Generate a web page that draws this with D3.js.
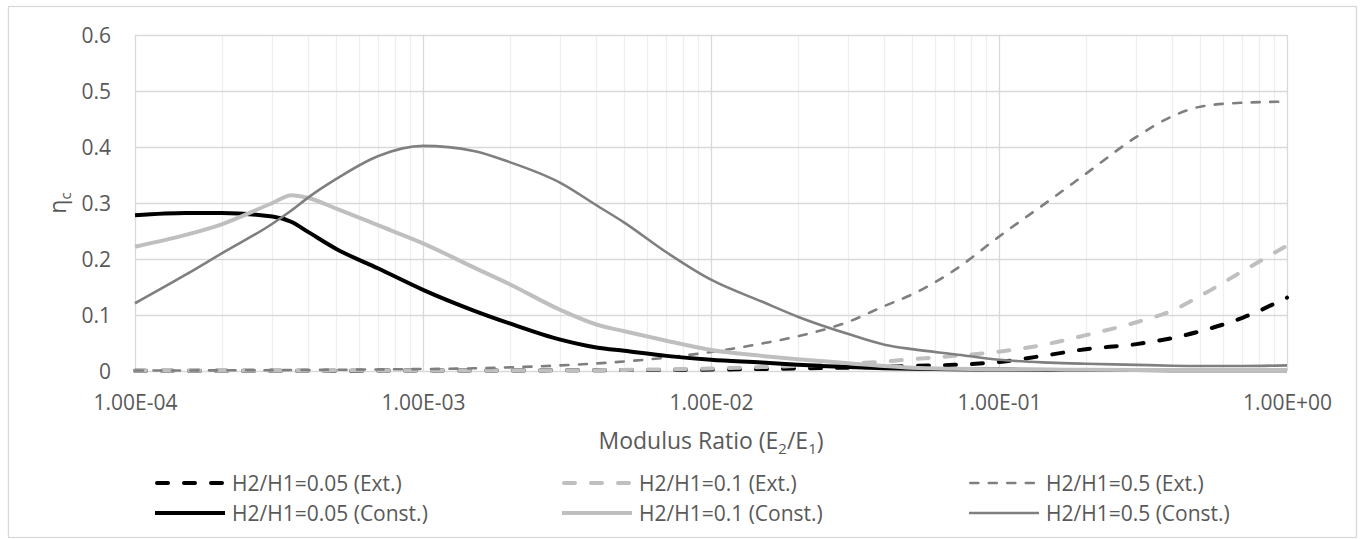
<!DOCTYPE html>
<html>
<head>
<meta charset="utf-8">
<script src="https://cdn.jsdelivr.net/npm/d3@7"></script>
<style>
  html, body { margin: 0; padding: 0; background: #ffffff; }
  svg { display: block; font-family: "Open Sans", sans-serif; }
</style>
</head>
<body>
<svg id="chart" width="1366" height="539"></svg>
<script>
// Modulus ratio E2/E1 sample points (log-spaced)
const xValues = [1e-4, 1.5e-4, 2e-4, 3e-4, 3.5e-4, 4e-4, 5e-4, 7e-4,
  1e-3, 1.5e-3, 2e-3, 3e-3, 4e-3, 5e-3, 7e-3,
  1e-2, 1.5e-2, 2e-2, 3e-2, 4e-2, 5e-2, 7e-2,
  1e-1, 1.5e-1, 2e-1, 3e-1, 4e-1, 5e-1, 7e-1, 1];

// eta_c for each thickness ratio, extensional case
const ext005 = [0.0005, 0.0005, 0.0005, 0.0005, 0.0005, 0.0005, 0.0006, 0.0007,
  0.0008, 0.0009, 0.001, 0.0012, 0.0014, 0.0016, 0.002,
  0.0025, 0.0035, 0.0045, 0.006, 0.0075, 0.009, 0.011,
  0.016, 0.029, 0.039, 0.048, 0.059, 0.071, 0.095, 0.131];
const ext01 = [0.0005, 0.0005, 0.0005, 0.0006, 0.0006, 0.0006, 0.0007, 0.0008,
  0.0009, 0.001, 0.001, 0.0012, 0.0015, 0.002, 0.003,
  0.0045, 0.007, 0.009, 0.013, 0.017, 0.021, 0.027,
  0.0345, 0.049, 0.064, 0.087, 0.108, 0.134, 0.178, 0.224];
const ext05 = [0.0008, 0.001, 0.0012, 0.0015, 0.0017, 0.0019, 0.0022, 0.0028,
  0.0035, 0.0048, 0.0065, 0.01, 0.0135, 0.017, 0.024,
  0.034, 0.049, 0.062, 0.088, 0.116, 0.137, 0.18,
  0.24, 0.305, 0.352, 0.418, 0.455, 0.472, 0.479, 0.481];

// eta_c for each thickness ratio, constant case
const const005 = [0.278, 0.282, 0.282, 0.276, 0.266, 0.248, 0.218, 0.183,
  0.145, 0.108, 0.085, 0.056, 0.042, 0.036, 0.027,
  0.02, 0.015, 0.011, 0.007, 0.005, 0.004, 0.003,
  0.0025, 0.002, 0.0018, 0.0016, 0.0015, 0.0014, 0.0013, 0.0012];
const const01 = [0.222, 0.243, 0.262, 0.300, 0.314, 0.309, 0.290, 0.260,
  0.228, 0.185, 0.155, 0.109, 0.083, 0.071, 0.054,
  0.0375, 0.027, 0.021, 0.014, 0.009, 0.006, 0.004,
  0.003, 0.0025, 0.0022, 0.002, 0.002, 0.002, 0.002, 0.002];
const const05 = [0.121, 0.172, 0.21, 0.263, 0.287, 0.31, 0.343, 0.384,
  0.402, 0.393, 0.373, 0.336, 0.296, 0.265, 0.212,
  0.163, 0.124, 0.097, 0.066, 0.047, 0.039, 0.03,
  0.02, 0.015, 0.013, 0.011, 0.0095, 0.009, 0.009, 0.01];

const seriesNames = ["H2/H1=0.05 (Ext.)", "H2/H1=0.1 (Ext.)", "H2/H1=0.5 (Ext.)",
  "H2/H1=0.05 (Const.)", "H2/H1=0.1 (Const.)", "H2/H1=0.5 (Const.)"];

const xTickValues = [1e-4, 1e-3, 1e-2, 1e-1, 1];
const xTickLabels = ["1.00E-04", "1.00E-03", "1.00E-02", "1.00E-01", "1.00E+00"];
const yTickValues = [0, 0.1, 0.2, 0.3, 0.4, 0.5, 0.6];
const yTickLabels = ["0", "0.1", "0.2", "0.3", "0.4", "0.5", "0.6"];

// Line styles per series
const styles = [
  { color: "#000000", width: 4, dash: "11,16" },
  { color: "#bfbfbf", width: 4, dash: "11,16" },
  { color: "#7f7f7f", width: 2.6, dash: "8,10.5" },
  { color: "#000000", width: 4, dash: null },
  { color: "#bfbfbf", width: 4, dash: null },
  { color: "#7f7f7f", width: 2.6, dash: null }
];
const seriesValues = [ext005, ext01, ext05, const005, const01, const05];

const svg = d3.select("#chart");
const textColor = "#595959";

// Outer chart frame
svg.append("rect")
  .attr("x", 8.5).attr("y", 6.5)
  .attr("width", 1348).attr("height", 531)
  .attr("fill", "#ffffff").attr("stroke", "#d9d9d9").attr("stroke-width", 1.3);

const x = d3.scaleLog().domain([1e-4, 1]).range([135, 1287]);
const y = d3.scaleLinear().domain([0, 0.6]).range([371, 35]);

// Grid: minor verticals, major verticals, horizontals
const grid = svg.append("g");
const allLogTicks = x.ticks();
const minorTicks = allLogTicks.filter(t => !xTickValues.some(v => Math.abs(v - t) / v < 1e-9));
grid.selectAll("line.minor").data(minorTicks).join("line")
  .attr("class", "minor")
  .attr("x1", d => Math.round(x(d)) + 0.5).attr("x2", d => Math.round(x(d)) + 0.5)
  .attr("y1", y(0.6)).attr("y2", y(0))
  .attr("stroke", "#eeeeee").attr("stroke-width", 1.3);
grid.selectAll("line.hz").data(yTickValues).join("line")
  .attr("class", "hz")
  .attr("x1", x(1e-4)).attr("x2", x(1))
  .attr("y1", d => Math.round(y(d)) + 0.5).attr("y2", d => Math.round(y(d)) + 0.5)
  .attr("stroke", "#d9d9d9").attr("stroke-width", 1.3);
grid.selectAll("line.major").data(xTickValues).join("line")
  .attr("class", "major")
  .attr("x1", d => Math.round(x(d)) + 0.5).attr("x2", d => Math.round(x(d)) + 0.5)
  .attr("y1", y(0.6)).attr("y2", y(0))
  .attr("stroke", "#d9d9d9").attr("stroke-width", 1.3);

// Axes
const xAxis = svg.append("g")
  .attr("transform", `translate(0,${y(0)})`)
  .call(d3.axisBottom(x).tickValues(xTickValues)
    .tickFormat((d, i) => xTickLabels[i]).tickSize(0));
xAxis.select(".domain").remove();
xAxis.selectAll("text")
  .attr("y", 39).attr("dy", 0)
  .attr("fill", textColor)
  .style("font-family", "'Open Sans', sans-serif")
  .style("font-size", "21px");

const yAxis = svg.append("g")
  .attr("transform", `translate(${x(1e-4)},0)`)
  .call(d3.axisLeft(y).tickValues(yTickValues)
    .tickFormat((d, i) => yTickLabels[i]).tickSize(0));
yAxis.select(".domain").remove();
yAxis.selectAll("text")
  .attr("x", -24).attr("dy", "0.36em")
  .attr("fill", textColor)
  .style("font-family", "'Open Sans', sans-serif")
  .style("font-size", "21px");

// Axis titles
const xTitle = svg.append("text")
  .attr("x", (x(1e-4) + x(1)) / 2).attr("y", 449)
  .attr("text-anchor", "middle")
  .attr("fill", textColor)
  .style("font-size", "23px");
xTitle.append("tspan").text("Modulus Ratio (E");
xTitle.append("tspan").text("2").attr("dy", 5).style("font-size", "15px");
xTitle.append("tspan").text("/E").attr("dy", -5);
xTitle.append("tspan").text("1").attr("dy", 5).style("font-size", "15px");
xTitle.append("tspan").text(")").attr("dy", -5);

const yTitle = svg.append("text")
  .attr("transform", `translate(66,${(y(0) + y(0.6)) / 2}) rotate(-90)`)
  .attr("text-anchor", "middle")
  .attr("fill", textColor)
  .style("font-size", "23px");
yTitle.append("tspan").text("η");
yTitle.append("tspan").text("c").attr("dy", 5).style("font-size", "15px");

// Curves
const points = vals => xValues.map((xv, i) => [xv, vals[i]]);
const line = d3.line()
  .x(d => x(d[0]))
  .y(d => y(d[1]))
  .curve(d3.curveMonotoneX);

const curves = svg.append("g");
seriesValues.forEach((vals, i) => {
  const s = styles[i];
  curves.append("path")
    .datum(points(vals))
    .attr("d", line)
    .attr("fill", "none")
    .attr("stroke", s.color)
    .attr("stroke-width", s.width)
    .attr("stroke-linecap", s.dash ? "round" : "butt")
    .attr("stroke-linejoin", "round")
    .attr("stroke-dasharray", s.dash);
});

// Legend: 3 columns x 2 rows
const legendCols = [155, 562, 969];
const legendRows = [483, 513];
const legend = svg.append("g");
seriesNames.forEach((name, i) => {
  const col = i % 3, row = Math.floor(i / 3);
  const s = styles[i];
  const lx = legendCols[col], ly = legendRows[row];
  const pad = s.dash ? s.width / 2 : 0;
  legend.append("line")
    .attr("x1", lx + pad).attr("x2", lx + 70 - pad)
    .attr("y1", ly).attr("y2", ly)
    .attr("stroke", s.color)
    .attr("stroke-width", s.width)
    .attr("stroke-linecap", s.dash ? "round" : "butt")
    .attr("stroke-dasharray", s.dash);
  legend.append("text")
    .attr("x", lx + 77).attr("y", ly + 7.5)
    .attr("fill", textColor)
    .style("font-size", "21px")
    .text(name);
});
</script>
</body>
</html>
